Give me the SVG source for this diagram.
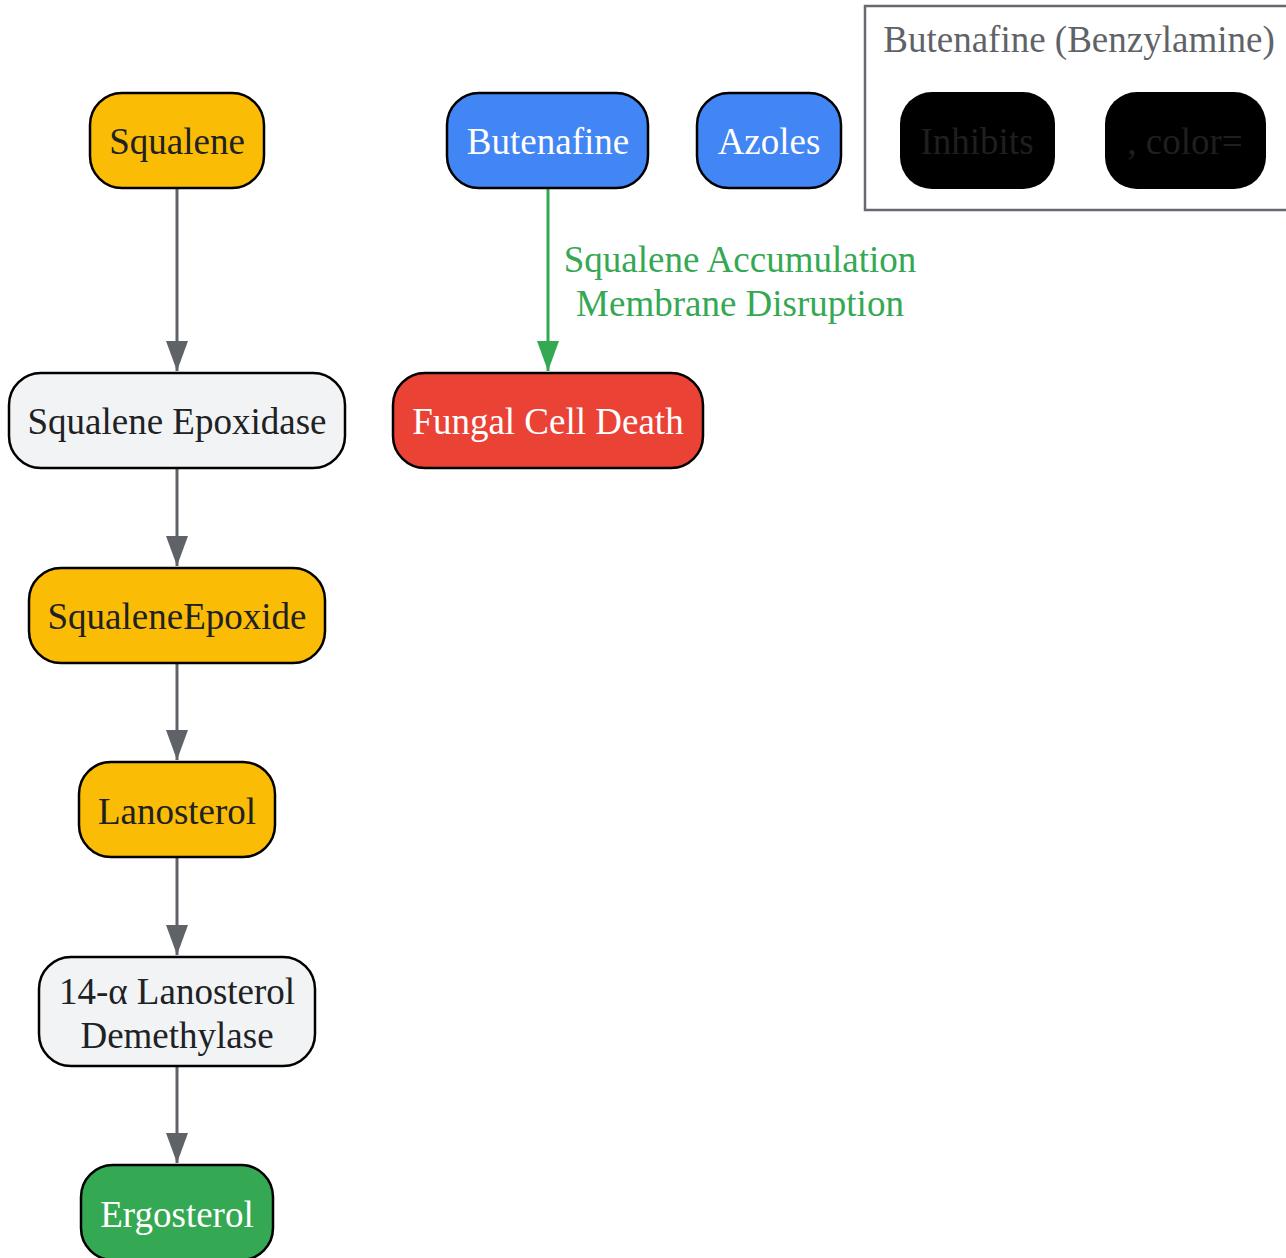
<svg xmlns="http://www.w3.org/2000/svg" width="1286" height="1258" viewBox="0 0 1286 1258">
<style>
text{font-family:"Liberation Serif","Times New Roman",serif;font-size:37px;text-anchor:middle}
.n{stroke:#000;stroke-width:2.5}
.y{fill:#FBBC05}.b{fill:#4285F4}.r{fill:#EA4335}.g{fill:#34A853}.l{fill:#F1F3F4}.k{fill:#000}
.td{fill:#202124}.tw{fill:#fff}.tk{fill:#1f1f1f}
.e{stroke:#5F6368;stroke-width:3;fill:none}
.eg{stroke:#34A853;stroke-width:3;fill:none}
</style>
<defs>
<marker id="ah" markerWidth="30" markerHeight="22" viewBox="0 0 30 22" refX="30" refY="11" markerUnits="userSpaceOnUse" orient="auto">
<path d="M0,0 L30,11 L0,22 Z" fill="#5F6368"/>
</marker>
<marker id="ahg" markerWidth="30" markerHeight="22" viewBox="0 0 30 22" refX="30" refY="11" markerUnits="userSpaceOnUse" orient="auto">
<path d="M0,0 L30,11 L0,22 Z" fill="#34A853"/>
</marker>
</defs>
<g id="cluster">
<rect x="865" y="6" width="430" height="204" fill="#fff" stroke="#666a70" stroke-width="2.5"/>
<text x="1079" y="52" fill="#5F6368">Butenafine (Benzylamine)</text>
</g>
<g id="connectors">
<path class="e" d="M177,188 V371" marker-end="url(#ah)"/>
<path class="e" d="M177,468 V566" marker-end="url(#ah)"/>
<path class="e" d="M177,663 V760" marker-end="url(#ah)"/>
<path class="e" d="M177,857 V955" marker-end="url(#ah)"/>
<path class="e" d="M177,1066 V1163" marker-end="url(#ah)"/>
<path class="eg" d="M548,188 V371" marker-end="url(#ahg)"/>
<text x="740" y="272" fill="#34A853">Squalene Accumulation</text>
<text x="740" y="316" fill="#34A853">Membrane Disruption</text>
</g>
<g id="squalene"><rect class="n y" x="90" y="93" width="174" height="95" rx="32"/><text class="td" x="177" y="154">Squalene</text></g>
<g id="squalene-epoxidase"><rect class="n l" x="9" y="373" width="336" height="95" rx="32"/><text class="td" x="177" y="434">Squalene Epoxidase</text></g>
<g id="squalene-epoxide"><rect class="n y" x="29" y="568" width="296" height="95" rx="32"/><text class="td" x="177" y="629">SqualeneEpoxide</text></g>
<g id="lanosterol"><rect class="n y" x="79" y="762" width="196" height="95" rx="32"/><text class="td" x="177" y="824">Lanosterol</text></g>
<g id="demethylase"><rect class="n l" x="39" y="957" width="276" height="109" rx="32"/><text class="td" x="177" y="1004">14-α Lanosterol</text><text class="td" x="177" y="1048">Demethylase</text></g>
<g id="ergosterol"><rect class="n g" x="81" y="1165" width="192" height="95" rx="32"/><text class="tw" x="177" y="1227">Ergosterol</text></g>
<g id="butenafine"><rect class="n b" x="447" y="93" width="201" height="95" rx="32"/><text class="tw" x="548" y="154">Butenafine</text></g>
<g id="azoles"><rect class="n b" x="697" y="93" width="144" height="95" rx="32"/><text class="tw" x="769" y="154">Azoles</text></g>
<g id="fungal-cell-death"><rect class="n r" x="393" y="373" width="310" height="95" rx="32"/><text class="tw" x="548" y="434">Fungal Cell Death</text></g>
<g id="inhibits"><rect class="k" x="900" y="92" width="155" height="97" rx="32"/><text class="tk" x="977" y="154">Inhibits</text></g>
<g id="color"><rect class="k" x="1105" y="92" width="161" height="97" rx="32"/><text class="tk" x="1185" y="154">, color=</text></g>
</svg>
